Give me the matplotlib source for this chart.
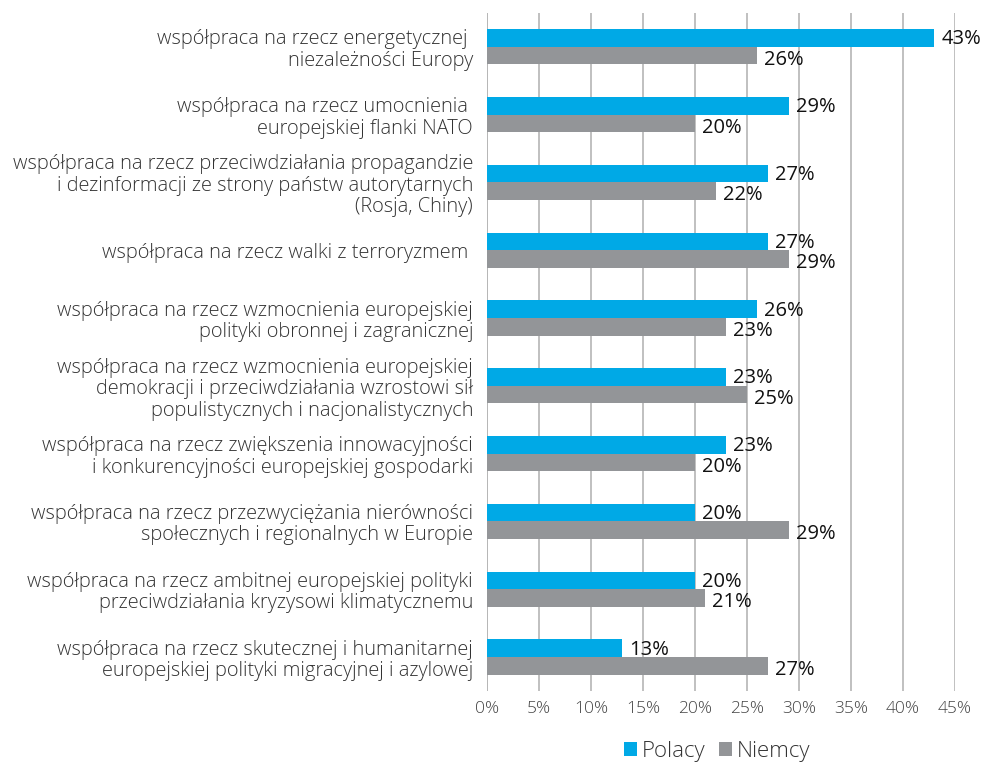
import matplotlib
matplotlib.use("Agg")
import matplotlib.pyplot as plt
import numpy as np

# Dane: odsetek wskazań w obu grupach respondentów
kategorie = [
    "współpraca na rzecz energetycznej \nniezależności Europy",
    "współpraca na rzecz umocnienia \neuropejskiej flanki NATO",
    "współpraca na rzecz przeciwdziałania propagandzie\ni dezinformacji ze strony państw autorytarnych\n(Rosja, Chiny)",
    "współpraca na rzecz walki z terroryzmem ",
    "współpraca na rzecz wzmocnienia europejskiej\npolityki obronnej i zagranicznej",
    "współpraca na rzecz wzmocnienia europejskiej\ndemokracji i przeciwdziałania wzrostowi sił\npopulistycznych i nacjonalistycznych",
    "współpraca na rzecz zwiększenia innowacyjności\ni konkurencyjności europejskiej gospodarki",
    "współpraca na rzecz przezwyciężania nierówności\nspołecznych i regionalnych w Europie",
    "współpraca na rzecz ambitnej europejskiej polityki\nprzeciwdziałania kryzysowi klimatycznemu",
    "współpraca na rzecz skutecznej i humanitarnej\neuropejskiej polityki migracyjnej i azylowej",
]
polacy = [43, 29, 27, 27, 26, 23, 23, 20, 20, 13]
niemcy = [26, 20, 22, 29, 23, 25, 20, 29, 21, 27]
x_ticks = [0, 5, 10, 15, 20, 25, 30, 35, 40, 45]

NIEBIESKI = "#00a9e6"
SZARY = "#939598"

plt.rcParams["font.family"] = ["Open Sans", "DejaVu Sans"]

fig = plt.figure(figsize=(10.07, 7.62), dpi=100)
ax = fig.add_axes([0.4836, 0.0932, 0.4648, 0.8898])

y = np.arange(len(kategorie))
h = 0.26

ax.barh(y - h / 2, polacy, height=h, color=NIEBIESKI, label="Polacy", zorder=3)
ax.barh(y + h / 2, niemcy, height=h, color=SZARY, label="Niemcy", zorder=3)

# etykiety z wartościami
for i, (p, n) in enumerate(zip(polacy, niemcy)):
    ax.annotate(f"{p}%", (p, i - h / 2), xytext=(5, -1), textcoords="offset points",
                va="center", ha="left", fontsize=14.5, color="#111111")
    ax.annotate(f"{n}%", (n, i + h / 2), xytext=(5, -3), textcoords="offset points",
                va="center", ha="left", fontsize=14.5, color="#111111")

ax.set_xlim(0, 45)
ax.set_ylim(len(kategorie) - 0.5, -0.5)
ax.set_xticks(x_ticks)
ax.set_xticklabels([f"{t}%" for t in x_ticks], fontsize=12.5, color="#444444",
                   fontweight="light")
ax.set_yticks(y)
ax.set_yticklabels(kategorie, fontsize=14.4, color="#333333", linespacing=1.1,
                   fontweight="light")

ax.grid(axis="x", color="#b5b5b5", linewidth=1.2, zorder=0)
for s in ax.spines.values():
    s.set_visible(False)
ax.axvline(0, color="#b5b5b5", linewidth=1.2, zorder=1)
ax.tick_params(axis="both", length=0)
ax.tick_params(axis="x", pad=7)
ax.tick_params(axis="y", pad=10)

fig.legend(loc="center", bbox_to_anchor=(0.712, 0.014), ncol=2, frameon=False,
           prop={"size": 16, "weight": "light"}, handlelength=0.6, handleheight=0.6,
           handletextpad=0.2, columnspacing=0.6, labelcolor="#333333")

fig.savefig("out.png", dpi=100)
